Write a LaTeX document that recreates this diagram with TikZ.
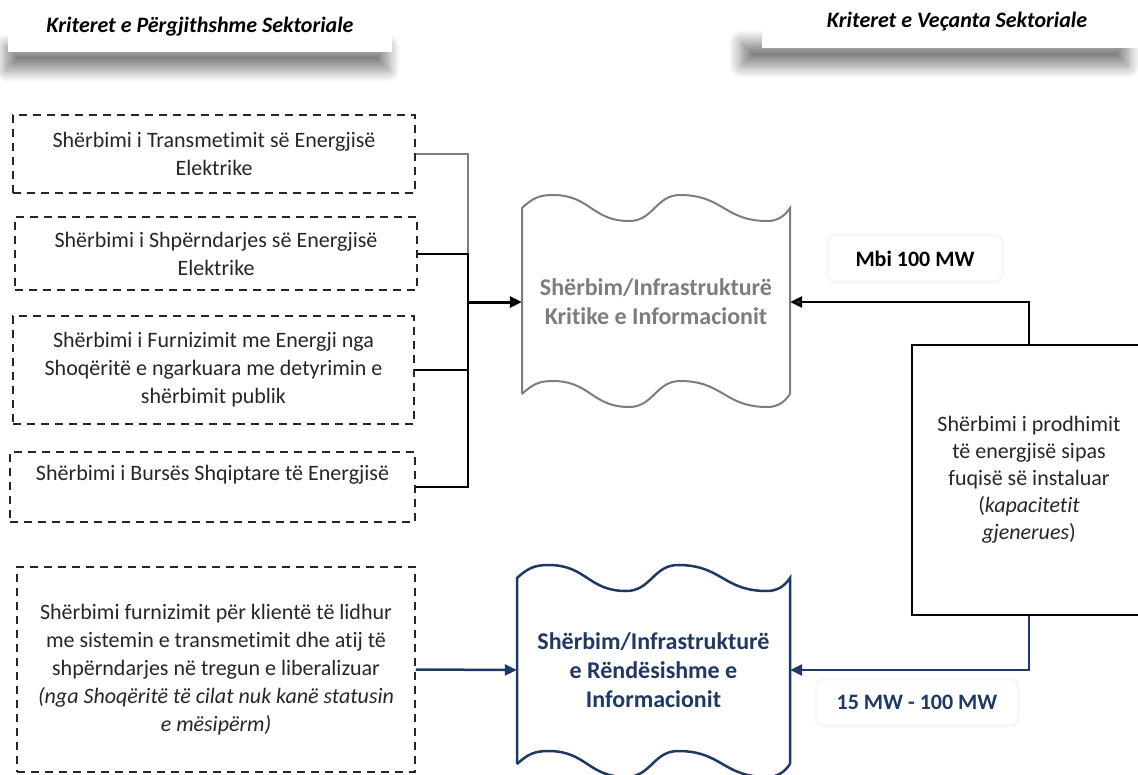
\documentclass[tikz,border=0pt]{standalone}
\usepackage{fontspec}
\setmainfont{Carlito}[Ligatures=NoCommon]
\usepackage{xcolor}
\usetikzlibrary{positioning, arrows.meta, shadows.blur}

\definecolor{navy}{RGB}{31,56,100}
\definecolor{tapegray}{RGB}{125,125,125}

% wavy top/bottom edge of the tape boxes: x0, corner y, width
\newcommand{\waveedge}[3]{%
  .. controls +({0.04*#3},-10) and +({-0.05*#3},0) .. ({#1+0.115*#3},{#2-13})
  .. controls +({0.14*#3},0) and +({-0.14*#3},0) .. ({#1+0.40*#3},{#2+13})
  .. controls +({0.09*#3},0) and +({-0.09*#3},0) .. ({#1+0.59*#3},{#2-13})
  .. controls +({0.16*#3},0) and +({-0.16*#3},0) .. ({#1+0.915*#3},{#2+13})
  .. controls +({0.04*#3},0) and +({-0.02*#3},8) .. ({#1+#3},{#2})}
\newcommand{\wavyframe}[5]{%
  \draw[#5] (#1,#4) -- (#1,#2) \waveedge{#1}{#2}{#3} -- ({#1+#3},#4);
  \draw[#5] (#1,#4) \waveedge{#1}{#4}{#3};}

\begin{document}
\begin{tikzpicture}[x=1pt, y=-1pt,
  every node/.style={font=\fontsize{22}{28}\selectfont, inner sep=0pt},
  dashbox/.style={draw=black!85, dash pattern=on 8pt off 6pt, line width=1.5pt, align=center, text=black!85},
  header/.style={fill=white, font=\bfseries\itshape\fontsize{22}{26}\selectfont},
  headshadow/.style={fill=white, blur shadow={shadow xshift=#1, shadow yshift=-20pt, shadow blur radius=12pt, shadow blur steps=12, shadow opacity=50}},
  headshadow/.default=0pt,
  tapelabel/.style={font=\bfseries\fontsize{24}{29}\selectfont, align=center},
  powerlabel/.style={draw=black!3, line width=3pt, rounded corners=8pt, minimum height=47pt, font=\bfseries\fontsize{22}{26}\selectfont},
  >={Triangle[length=12pt,width=11pt]}
]
\useasboundingbox (0,0) rectangle (1138,774);

% headers
\fill[headshadow=-3pt] (9,26) rectangle (391,50);
\fill[headshadow=-22pt] (763,22) rectangle (1150,46);
\node[header, minimum width=384pt, minimum height=50pt] (hpergjithshme) at (200,27) {Kriteret e Përgjithshme Sektoriale};
\node[header, minimum width=390pt, minimum height=52pt] (hvecanta) at (957,22) {Kriteret e Veçanta Sektoriale};

% general criteria
\node[dashbox, minimum width=402pt, minimum height=78pt] (transmetim) at (214,154) {Shërbimi i Transmetimit së Energjisë\\Elektrike};
\node[dashbox, minimum width=402pt, minimum height=73pt] (shperndarje) at (216,253.5) {Shërbimi i Shpërndarjes së Energjisë\\Elektrike};
\node[dashbox, minimum width=401pt, minimum height=108pt] (furnizim) at (213.5,370) {Shërbimi i Furnizimit me Energji nga\\Shoqëritë e ngarkuara me detyrimin e\\shërbimit publik};
\node[dashbox, minimum width=405pt, minimum height=70pt] (bursa) at (212.5,487) {Shërbimi i Bursës Shqiptare të Energjisë\\~};
\node[dashbox, minimum width=398pt, minimum height=205pt] (liberalizuar) at (216,669.5) {Shërbimi furnizimit për klientë të lidhur\\me sistemin e transmetimit dhe atij të\\shpërndarjes në tregun e liberalizuar\\\itshape (nga Shoqëritë të cilat nuk kanë statusin\\\itshape e mësipërm)};

% tape boxes
\wavyframe{522}{208}{268}{394}{tapegray, line width=2pt}
\wavyframe{517}{578}{273}{764}{navy, line width=2.5pt}
\node[tapelabel, text=tapegray, minimum width=268pt] (kritike) at (656,302) {Shërbim/Infrastrukturë\\Kritike e Informacionit};
\node[tapelabel, text=navy, minimum width=273pt] (rendesishme) at (653.5,670) {Shërbim/Infrastrukturë\\e Rëndësishme e\\Informacionit};

% specific criteria
\node[draw, line width=1.5pt, minimum width=234pt, minimum height=270pt, align=center, text=black!85,
  font=\fontsize{22}{27}\selectfont] (prodhim) at (1029,480) {Shërbimi i prodhimit\\të energjisë sipas\\fuqisë së instaluar\\(\textit{kapacitetit}\\\textit{gjenerues})};
\node[powerlabel, minimum width=175pt] (mbi) at (915,258.5) {Mbi 100 MW};
\node[powerlabel, minimum width=202pt, text=navy] (interval) at (917,702.5) {15 MW - 100 MW};

% connectors
\coordinate (bus) at (468,302);
\draw[tapegray, line width=2pt] (transmetim.east) -| (bus);
\draw[line width=2pt] (shperndarje.east) -| (bus);
\draw[line width=2pt] (furnizim.east) -| (bus);
\draw[line width=2pt] (bursa.east) -| (bus);
\draw[->, line width=3pt] (bus) -- (kritike.west);
\draw[->, line width=2.5pt] (prodhim.north) |- (kritike.east);
\draw[->, navy, line width=2.5pt] (prodhim.south) |- (rendesishme.east);
\draw[->, navy, line width=2.5pt] (liberalizuar.east) -- (rendesishme.west);
\end{tikzpicture}
\end{document}
